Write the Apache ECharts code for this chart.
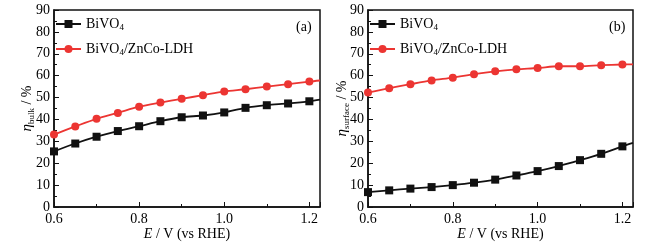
<!DOCTYPE html>
<html><head><meta charset="utf-8">
<script src="https://cdn.jsdelivr.net/npm/echarts@6/dist/echarts.min.js"></script>
<style>html,body{margin:0;padding:0;background:#fff}#c{width:663px;height:244px}</style>
</head><body><div id="c"></div>
<script>
var potentials = [0.6,0.65,0.7,0.75,0.8,0.85,0.9,0.95,1.0,1.05,1.1,1.15,1.2];
var edgeX = 1.225;
var bulkBiVO4 = [25.4,29.0,32.1,34.7,36.9,39.2,41.0,41.8,43.2,45.3,46.5,47.3,48.3];
var bulkBiVO4Edge = 49.1;
var bulkLDH = [33.1,36.8,40.3,43.0,45.8,47.7,49.4,51.1,52.8,53.8,55.0,56.1,57.3];
var bulkLDHEdge = 57.8;
var surfBiVO4 = [6.8,7.6,8.4,9.1,10.0,11.1,12.5,14.4,16.4,18.7,21.4,24.3,27.7];
var surfBiVO4Edge = 29.3;
var surfLDH = [52.3,54.3,56.1,57.8,59.1,60.7,62.0,62.9,63.5,64.3,64.3,64.8,65.1];
var surfLDHEdge = 65.2;
var yTicks = {min:0, max:90, interval:10};
var xTicks = {min:0.6, max:edgeX, interval:0.2};

var FONT = 'Liberation Serif';
function pts(vals, edge){
  var d = potentials.map(function(x,i){return [x, vals[i]];});
  d.push({value:[edgeX, edge], symbol:'none'});
  return d;
}
var BLACK = '#111111', RED = '#ec3532';
function xAxis(gi){
  return {type:'value', gridIndex:gi, min:xTicks.min, max:xTicks.max, interval:xTicks.interval,
    name:'{i|E} / V (vs RHE)', nameLocation:'middle', nameGap:20, nameMoveOverlap:false,
    nameTextStyle:{fontFamily:FONT, fontSize:14, color:'#000', rich:{i:{fontStyle:'italic', fontFamily:FONT, fontSize:14, color:'#000'}}},
    axisLine:{lineStyle:{color:'#111', width:1.5}},
    axisTick:{inside:true, length:5, lineStyle:{color:'#111'}},
    minorTick:{show:true, splitNumber:2, length:3, lineStyle:{color:'#111'}},
    splitLine:{show:false},
    axisLabel:{showMaxLabel:false, fontFamily:FONT, fontSize:14, color:'#000', margin:5,
      formatter:function(v){return v.toFixed(1);}}
  };
}
function yAxis(gi, sub, gap){
  return {type:'value', gridIndex:gi, min:yTicks.min, max:yTicks.max, interval:yTicks.interval,
    name:'{i|η}{s|'+sub+'} / %', nameLocation:'middle', nameGap:gap, nameRotate:90, nameMoveOverlap:false,
    nameTextStyle:{fontFamily:FONT, fontSize:14, color:'#000', rich:{
      i:{fontStyle:'italic', fontFamily:FONT, fontSize:15, color:'#000'},
      s:{fontFamily:FONT, fontSize:9, color:'#000', padding:[8,0,0,0]}}},
    axisLine:{lineStyle:{color:'#111', width:1.5}},
    axisTick:{inside:true, length:5, lineStyle:{color:'#111'}},
    minorTick:{show:true, splitNumber:2, length:3, lineStyle:{color:'#111'}},
    splitLine:{show:false},
    axisLabel:{fontFamily:FONT, fontSize:14, color:'#000', margin:4}
  };
}
function series(name, gi, data, color, sym){
  return {name:name, type:'line', xAxisIndex:gi, yAxisIndex:gi, data:data, smooth:0.3,
    symbol:sym, symbolSize:8, showSymbol:true,
    lineStyle:{color:color, width:1.8}, itemStyle:{color:color}};
}
function legend(left){
  return {orient:'vertical', left:left, top:17, padding:0, itemWidth:25, itemHeight:10, itemGap:10,
    data:['BiVO4','BiVO4/ZnCo-LDH'],
    formatter:function(n){return n.replace('BiVO4','BiVO{s|4}');},
    textStyle:{fontFamily:FONT, fontSize:14, color:'#000',
      rich:{s:{fontFamily:FONT, fontSize:9, color:'#000', padding:[7,0,0,0]}}}};
}
var chart = echarts.init(document.getElementById('c'), null, {renderer:'canvas'});
chart.setOption({
  backgroundColor:'#fff',
  animation:false,
  grid:[
    {left:54, right:343, top:10, bottom:37, outerBoundsMode:'none', containLabel:false, show:true, borderColor:'#111', borderWidth:1.5, backgroundColor:'transparent'},
    {left:368, right:30, top:10, bottom:37, outerBoundsMode:'none', containLabel:false, show:true, borderColor:'#111', borderWidth:1.5, backgroundColor:'transparent'}
  ],
  title:[
    {text:'(a)', left:291, top:15, textStyle:{fontFamily:FONT, fontSize:14, fontWeight:'normal', color:'#000'}},
    {text:'(b)', left:604, top:15, textStyle:{fontFamily:FONT, fontSize:14, fontWeight:'normal', color:'#000'}}
  ],
  legend:[legend(55), legend(369)],
  xAxis:[xAxis(0), xAxis(1)],
  yAxis:[yAxis(0,'bulk',18), yAxis(1,'surface',17)],
  series:[
    series('BiVO4',0,pts(bulkBiVO4,bulkBiVO4Edge),BLACK,'rect'),
    series('BiVO4/ZnCo-LDH',0,pts(bulkLDH,bulkLDHEdge),RED,'circle'),
    series('BiVO4',1,pts(surfBiVO4,surfBiVO4Edge),BLACK,'rect'),
    series('BiVO4/ZnCo-LDH',1,pts(surfLDH,surfLDHEdge),RED,'circle')
  ]
});
</script></body></html>
